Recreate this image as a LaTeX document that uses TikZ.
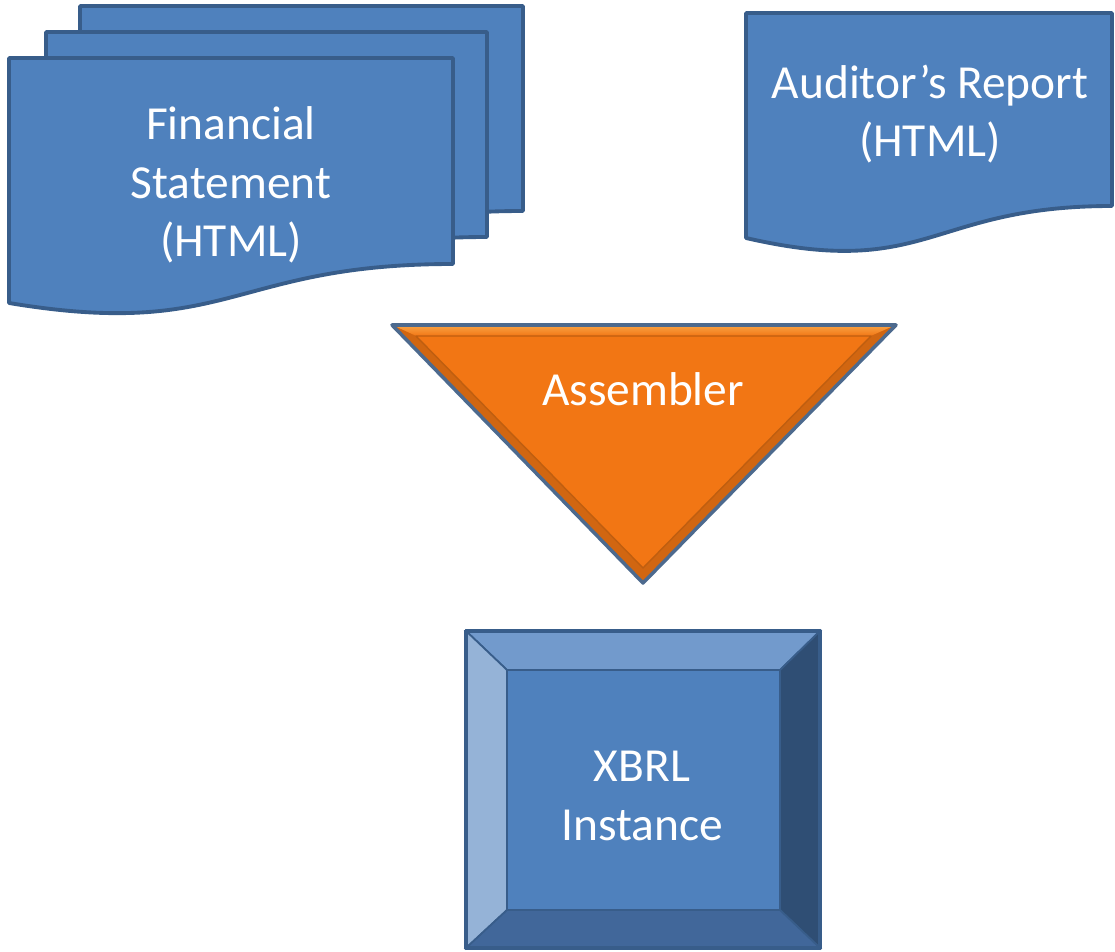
\documentclass[tikz,border=0pt]{standalone}
\usepackage{fontspec}
\setmainfont{Carlito}
\usetikzlibrary{calc}
\definecolor{docblue}{HTML}{4F81BD}
\definecolor{docline}{HTML}{385D8A}
\definecolor{asmorange}{HTML}{F27614}
\definecolor{asmlight}{HTML}{F9A446}
\definecolor{asmdark}{HTML}{A9530E}
\definecolor{asmline}{HTML}{4D6A8E}
\definecolor{bevtop}{HTML}{729ACC}
\definecolor{bevleft}{HTML}{95B3D7}
\definecolor{bevright}{HTML}{2F4E74}
\definecolor{bevbot}{HTML}{41679A}
\tikzset{
    doc/.style={fill=docblue, draw=docline, line width=2.2pt, line join=round},
    lbl/.style={text=white, align=center, inner sep=0pt, font=\fontsize{27}{33.3}\selectfont},
}

\begin{document}
\begin{tikzpicture}[x=0.02cm, y=-0.02cm]
        \useasboundingbox (0,0) rectangle (1115,952);
        \draw[doc] (80,6) -- (523,6) -- (523,211) .. controls (301,211) and (301,289) .. (80,245) -- cycle;
        \draw[doc] (46,32) -- (487,32) -- (487,237) .. controls (266,237) and (266,315) .. (46,271) -- cycle;
        \draw[doc] (9,58) -- (453,58) -- (453,264) .. controls (231,264) and (231,340) .. (9,303) -- cycle;
        \draw[doc] (746,13) -- (1112,13) -- (1112,206) .. controls (929,206) and (929,280) .. (746,238) -- cycle;
        \node[lbl] (fin) at (231,185) {Financial\\Statement\\(HTML)};
        \node[lbl] (aud) at (930,114) {Auditor’s Report\\(HTML)};

        \coordinate (tl) at (392,325);
        \coordinate (tr) at (896,325);
        \coordinate (tb) at (643,583);
        \coordinate (il) at (416,336);
        \coordinate (ir) at (871,336);
        \coordinate (ib) at (643,568);
        \fill[asmorange] (tl) -- (tr) -- (tb) -- cycle;
        \shade[top color=asmlight, bottom color=asmorange] (tl) -- (tr) -- (ir) -- (il) -- cycle;
        \fill[asmdark!45!asmorange] (tl) -- (il) -- (ib) -- (tb) -- cycle;
        \fill[asmdark!45!asmorange] (tr) -- (ir) -- (ib) -- (tb) -- cycle;
        \draw[asmdark!70!asmorange, line width=0.8pt, line join=round] (il) -- (ir) -- (ib) -- cycle;
        \draw[asmline, line width=2pt, line join=round] (tl) -- (tr) -- (tb) -- cycle;
        \node[lbl] (asm) at (643,389) {Assembler};

        \coordinate (o1) at (466,631);
        \coordinate (o2) at (820,631);
        \coordinate (o3) at (820,948);
        \coordinate (o4) at (466,948);
        \coordinate (i1) at (507,670);
        \coordinate (i2) at (780,670);
        \coordinate (i3) at (780,910);
        \coordinate (i4) at (507,910);
        \filldraw[fill=bevtop, draw=docline, line width=1pt] (o1) -- (o2) -- (i2) -- (i1) -- cycle;
        \filldraw[fill=bevleft, draw=docline, line width=1pt] (o1) -- (i1) -- (i4) -- (o4) -- cycle;
        \filldraw[fill=bevright, draw=docline, line width=1pt] (o2) -- (o3) -- (i3) -- (i2) -- cycle;
        \filldraw[fill=bevbot, draw=docline, line width=1pt] (o4) -- (i4) -- (i3) -- (o3) -- cycle;
        \filldraw[fill=docblue, draw=docline, line width=1.4pt] (i1) -- (i2) -- (i3) -- (i4) -- cycle;
        \draw[docline, line width=2.2pt, line join=round] (o1) -- (o2) -- (o3) -- (o4) -- cycle;
        \node[lbl] (xbrl) at (642,796) {XBRL\\Instance};
    \end{tikzpicture}
\end{document}
